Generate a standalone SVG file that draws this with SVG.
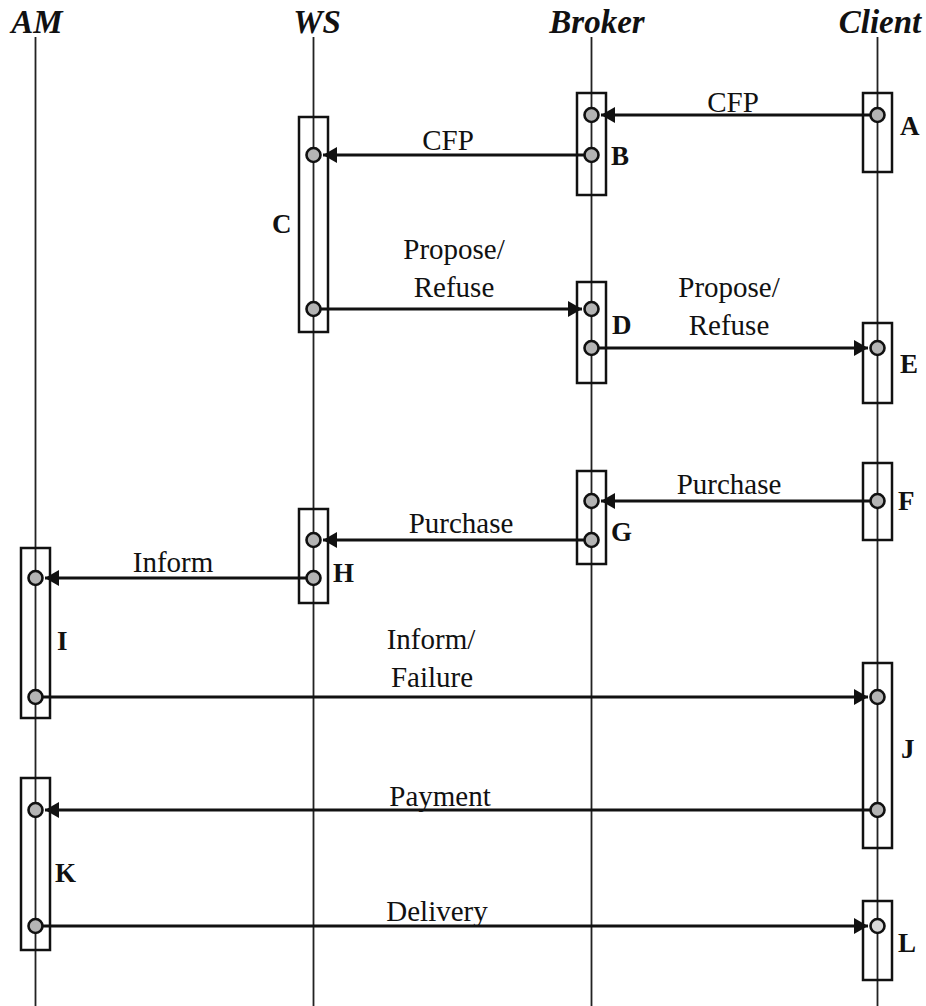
<svg xmlns="http://www.w3.org/2000/svg" width="926" height="1006" viewBox="0 0 926 1006">
<style>
.title{font-family:"Liberation Serif","Times New Roman",serif;font-size:33px;font-weight:bold;font-style:italic;fill:#111;text-anchor:middle}
.life{stroke:#222;stroke-width:1.8;fill:none}
.bar{fill:none;stroke:#111;stroke-width:2.5}
.pt{fill:#b4b4b4;stroke:#111;stroke-width:2.6}
.lbl{font-family:"Liberation Serif","Times New Roman",serif;font-size:27px;font-weight:bold;fill:#111}
.msg{font-family:"Liberation Serif","Times New Roman",serif;font-size:29px;fill:#111;text-anchor:middle}
.arr{stroke:#111;stroke-width:3.2;fill:none;marker-end:url(#ah)}
</style>
<defs>
<marker id="ah" markerUnits="userSpaceOnUse" markerWidth="16" markerHeight="16" refX="14" refY="8" orient="auto">
<path d="M0,0 L14,8 L0,16 z" fill="#111"/>
</marker>
</defs>
<rect width="926" height="1006" fill="#fff"/>
<g id="lifelines">
<g id="lifeline-AM"><text class="title" x="37" y="33">AM</text><line class="life" x1="35.5" y1="37" x2="35.5" y2="1006"/></g>
<g id="lifeline-WS"><text class="title" x="317" y="33">WS</text><line class="life" x1="313.5" y1="37" x2="313.5" y2="1006"/></g>
<g id="lifeline-Broker"><text class="title" x="597" y="33">Broker</text><line class="life" x1="591.5" y1="37" x2="591.5" y2="1006"/></g>
<g id="lifeline-Client"><text class="title" x="880" y="33">Client</text><line class="life" x1="877.5" y1="37" x2="877.5" y2="1006"/></g>
</g>
<g id="connectors">
<line class="arr" x1="877.5" y1="115" x2="601" y2="115"/>
<text class="msg" x="733" y="112">CFP</text>
<line class="arr" x1="591.5" y1="155" x2="323" y2="155"/>
<text class="msg" x="448" y="150">CFP</text>
<line class="arr" x1="313.5" y1="309" x2="582" y2="309"/>
<text class="msg" x="454" y="259">Propose/</text>
<text class="msg" x="454" y="297">Refuse</text>
<line class="arr" x1="591.5" y1="348" x2="868" y2="348"/>
<text class="msg" x="729" y="297">Propose/</text>
<text class="msg" x="729" y="335">Refuse</text>
<line class="arr" x1="877.5" y1="501" x2="601" y2="501"/>
<text class="msg" x="729" y="494">Purchase</text>
<line class="arr" x1="591.5" y1="540" x2="323" y2="540"/>
<text class="msg" x="461" y="533">Purchase</text>
<line class="arr" x1="313.5" y1="578" x2="45" y2="578"/>
<text class="msg" x="173" y="572">Inform</text>
<line class="arr" x1="35.5" y1="697" x2="868" y2="697"/>
<text class="msg" x="431" y="649">Inform/</text>
<text class="msg" x="432" y="687">Failure</text>
<line class="arr" x1="877.5" y1="810" x2="45" y2="810"/>
<text class="msg" x="440" y="806">Payment</text>
<line class="arr" x1="35.5" y1="926" x2="868" y2="926"/>
<text class="msg" x="437" y="921">Delivery</text>
</g>
<g id="node-A"><rect class="bar" x="863" y="93" width="29" height="79"/><circle class="pt" cx="877.5" cy="115" r="7"/><text class="lbl" x="900" y="135">A</text></g>
<g id="node-B"><rect class="bar" x="577" y="93" width="29" height="102"/><circle class="pt" cx="591.5" cy="115" r="7"/><circle class="pt" cx="591.5" cy="155" r="7"/><text class="lbl" x="611" y="165">B</text></g>
<g id="node-C"><rect class="bar" x="299" y="117" width="29" height="215"/><circle class="pt" cx="313.5" cy="155" r="7"/><circle class="pt" cx="313.5" cy="309" r="7"/><text class="lbl" x="272" y="233">C</text></g>
<g id="node-D"><rect class="bar" x="577" y="282" width="29" height="101"/><circle class="pt" cx="591.5" cy="309" r="7"/><circle class="pt" cx="591.5" cy="348" r="7"/><text class="lbl" x="612" y="334">D</text></g>
<g id="node-E"><rect class="bar" x="863" y="323" width="29" height="80"/><circle class="pt" cx="877.5" cy="348" r="7"/><text class="lbl" x="900" y="373">E</text></g>
<g id="node-F"><rect class="bar" x="863" y="463" width="29" height="77"/><circle class="pt" cx="877.5" cy="501" r="7"/><text class="lbl" x="898" y="510">F</text></g>
<g id="node-G"><rect class="bar" x="577" y="471" width="29" height="93"/><circle class="pt" cx="591.5" cy="501" r="7"/><circle class="pt" cx="591.5" cy="540" r="7"/><text class="lbl" x="611" y="541">G</text></g>
<g id="node-H"><rect class="bar" x="299" y="509" width="29" height="94"/><circle class="pt" cx="313.5" cy="540" r="7"/><circle class="pt" cx="313.5" cy="578" r="7"/><text class="lbl" x="333" y="582">H</text></g>
<g id="node-I"><rect class="bar" x="21" y="548" width="29" height="170"/><circle class="pt" cx="35.5" cy="578" r="7"/><circle class="pt" cx="35.5" cy="697" r="7"/><text class="lbl" x="57" y="650">I</text></g>
<g id="node-J"><rect class="bar" x="863" y="663" width="29" height="185"/><circle class="pt" cx="877.5" cy="697" r="7"/><circle class="pt" cx="877.5" cy="810" r="7"/><text class="lbl" x="901" y="758">J</text></g>
<g id="node-K"><rect class="bar" x="21" y="778" width="29" height="172"/><circle class="pt" cx="35.5" cy="810" r="7"/><circle class="pt" cx="35.5" cy="926" r="7"/><text class="lbl" x="55" y="882">K</text></g>
<g id="node-L"><rect class="bar" x="863" y="901" width="29" height="79"/><circle class="pt" cx="877.5" cy="926" r="7" style="fill:#d8d8d8"/><text class="lbl" x="898" y="952">L</text></g>
</svg>
